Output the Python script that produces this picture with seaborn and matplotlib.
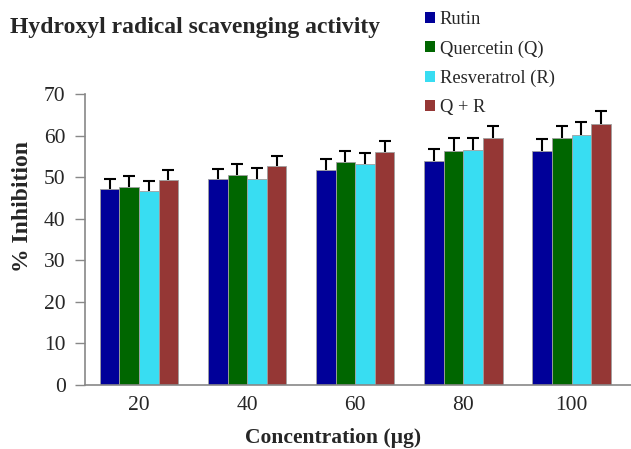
import matplotlib
matplotlib.use("Agg")
import matplotlib.pyplot as plt
import seaborn as sns
import pandas as pd
import numpy as np
from matplotlib.patches import Patch
from matplotlib.font_manager import FontProperties

concentrations = ["20", "40", "60", "80", "100"]
series = ["Rutin", "Quercetin (Q)", "Resveratrol (R)", "Q + R"]
rutin = [47.1, 49.5, 51.7, 54.0, 56.2]
quercetin = [47.7, 50.6, 53.6, 56.4, 59.3]
resveratrol = [46.6, 49.5, 53.1, 56.5, 60.1]
q_plus_r = [49.2, 52.6, 56.0, 59.3, 62.8]
rutin_err = [2.4, 2.5, 2.7, 2.8, 2.9]
quercetin_err = [2.5, 2.6, 2.7, 2.9, 3.1]
resveratrol_err = [2.4, 2.6, 2.8, 2.9, 3.1]
q_plus_r_err = [2.5, 2.6, 2.8, 3.1, 3.0]

colors = ["#000099", "#006600", "#38DDF2", "#953735"]

values = [rutin, quercetin, resveratrol, q_plus_r]
errors = [rutin_err, quercetin_err, resveratrol_err, q_plus_r_err]

rows = []
for s, vals, errs in zip(series, values, errors):
    for c, v, e in zip(concentrations, vals, errs):
        rows.append({"Concentration": c, "Series": s, "Value": v, "Err": e})
df = pd.DataFrame(rows)

sns.set_style("white")
plt.rcParams["font.family"] = ["Liberation Serif", "DejaVu Serif"]
SERIF = "Liberation Serif"

fig = plt.figure(figsize=(6.31, 4.49), dpi=100)
ax = fig.add_axes([85 / 631, 1 - 385 / 449, (631 - 85) / 631, (385 - 94) / 449])

sns.barplot(data=df, x="Concentration", y="Value", hue="Series", order=concentrations,
            hue_order=series, palette=colors, errorbar=None, width=0.725,
            edgecolor="#A0A0A0", linewidth=0.6, ax=ax, legend=False, saturation=1)

# error bars (upper only)
for i, s in enumerate(series):
    cont = ax.containers[i]
    sub = df[df["Series"] == s].set_index("Concentration").loc[concentrations]
    xs = [p.get_x() + p.get_width() / 2 for p in cont.patches]
    ys = sub["Value"].values
    es = sub["Err"].values
    eb = ax.errorbar(xs, ys, yerr=[np.zeros_like(es), es], fmt="none", ecolor="black",
                     elinewidth=1.5, capsize=4.5, capthick=1.5, zorder=1)
    caplines = eb[1]
    if len(caplines) == 2:
        caplines[0].set_visible(False)

ax.set_ylim(0, 70)
ax.set_xlim(-0.5, 4.55)
ax.set_yticks(range(0, 71, 10))
ax.set_xlabel("")
ax.set_ylabel("")
ax.tick_params(axis="y", direction="out", length=7, width=1, color="#888888",
               labelsize=15.5, pad=7, left=True)
ax.tick_params(axis="x", length=0, labelsize=15.5, pad=8)
for lab in ax.get_xticklabels() + ax.get_yticklabels():
    lab.set_fontfamily(SERIF)
for side in ["top", "right"]:
    ax.spines[side].set_visible(False)
for side in ["left", "bottom"]:
    ax.spines[side].set_color("#888888")
    ax.spines[side].set_linewidth(1.2)

fig.text(23 / 631, 1 - 207 / 449, "% Inhibition", ha="center", va="center",
         rotation=90, fontsize=17, fontweight="bold", family=SERIF)
fig.text(333 / 631, 1 - 438 / 449, "Concentration (µg)", ha="center", va="center",
         fontsize=15.5, fontweight="bold", family=SERIF)
fig.text(10 / 631, 1 - 27 / 449, "Hydroxyl radical scavenging activity", ha="left",
         va="center", fontsize=17, fontweight="bold", family=SERIF)

handles = [Patch(facecolor=c, edgecolor="none") for c in colors]
fig.legend(handles, series, loc="upper left", bbox_to_anchor=(425 / 631, 1 - 11 / 449),
           frameon=False, prop=FontProperties(family=SERIF, size=13.3),
           handlelength=0.55, handleheight=0.55,
           handletextpad=0.25, labelspacing=0.66, borderaxespad=0, borderpad=0)

fig.savefig("out.png", dpi=100)
